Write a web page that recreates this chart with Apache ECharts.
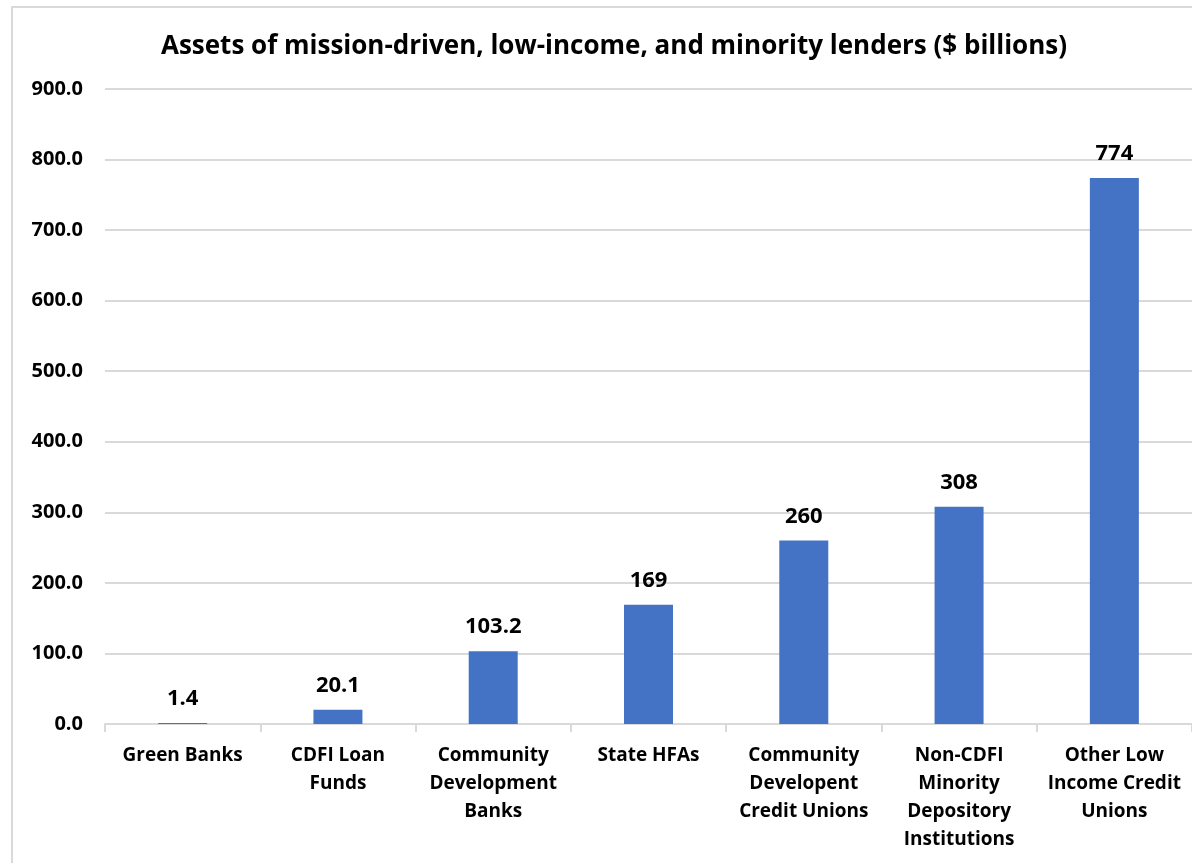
<!DOCTYPE html>
<html>
<head>
<meta charset="utf-8">
<title>Assets of mission-driven lenders</title>
<script src="https://cdn.jsdelivr.net/npm/echarts@6/dist/echarts.min.js"></script>
<style>
	html, body { margin: 0; padding: 0; background: #fff; }
	#main { width: 1192px; height: 863px; }
</style>
</head>
<body>
<div id="main"></div>
<script>
var categories = ['Green Banks', 'CDFI Loan\nFunds', 'Community\nDevelopment\nBanks', 'State HFAs',
	'Community\nDevelopent\nCredit Unions', 'Non-CDFI\nMinority\nDepository\nInstitutions', 'Other Low\nIncome Credit\nUnions'];
var assets = [1.4, 20.1, 103.2, 169, 260, 308, 774];
var valueLabels = ['1.4', '20.1', '103.2', '169', '260', '308', '774'];
var yTicks = [0, 100, 200, 300, 400, 500, 600, 700, 800, 900];

var font = 'Open Sans';
var myChart = echarts.init(document.getElementById('main'));

var option = {
	animation: false,
	title: {
		text: 'Assets of mission-driven, low-income, and minority lenders ($ billions)',
		left: 609,
		textAlign: 'center',
		top: 29,
		textStyle: {
			fontFamily: font,
			fontWeight: 'bold',
			fontSize: 26,
			color: '#000'
		}
	},
	graphic: [{
		type: 'rect',
		shape: { x: 12, y: 7, width: 1300, height: 1000 },
		style: { fill: 'none', stroke: '#d9d9d9', lineWidth: 2 },
		silent: true
	}],
	grid: {
		left: 105,
		top: 89,
		width: 1093,
		height: 635,
		containLabel: false
	},
	xAxis: {
		type: 'category',
		data: categories,
		axisLine: { lineStyle: { color: '#d9d9d9', width: 2 } },
		axisTick: { show: true, length: 8, lineStyle: { color: '#d9d9d9', width: 2 } },
		axisLabel: {
			interval: 0,
			margin: 18,
			fontFamily: font,
			fontWeight: 'bold',
			fontSize: 19,
			lineHeight: 28,
			color: '#000'
		}
	},
	yAxis: {
		type: 'value',
		min: yTicks[0],
		max: yTicks[yTicks.length - 1],
		interval: 100,
		axisLine: { show: false },
		axisTick: { show: false },
		splitLine: { lineStyle: { color: '#d9d9d9', width: 2 } },
		axisLabel: {
			margin: 22,
			fontFamily: font,
			fontWeight: 'bold',
			fontSize: 20,
			color: '#000',
			formatter: function(v) { return v.toFixed(1); }
		}
	},
	series: [{
		type: 'bar',
		data: assets,
		barWidth: 49,
		itemStyle: { color: '#4472C4' },
		label: {
			show: true,
			position: 'top',
			distance: 13,
			fontFamily: font,
			fontWeight: 'bold',
			fontSize: 22,
			color: '#000',
			formatter: function(p) { return valueLabels[p.dataIndex]; }
		}
	}]
};

myChart.setOption(option);
</script>
</body>
</html>
